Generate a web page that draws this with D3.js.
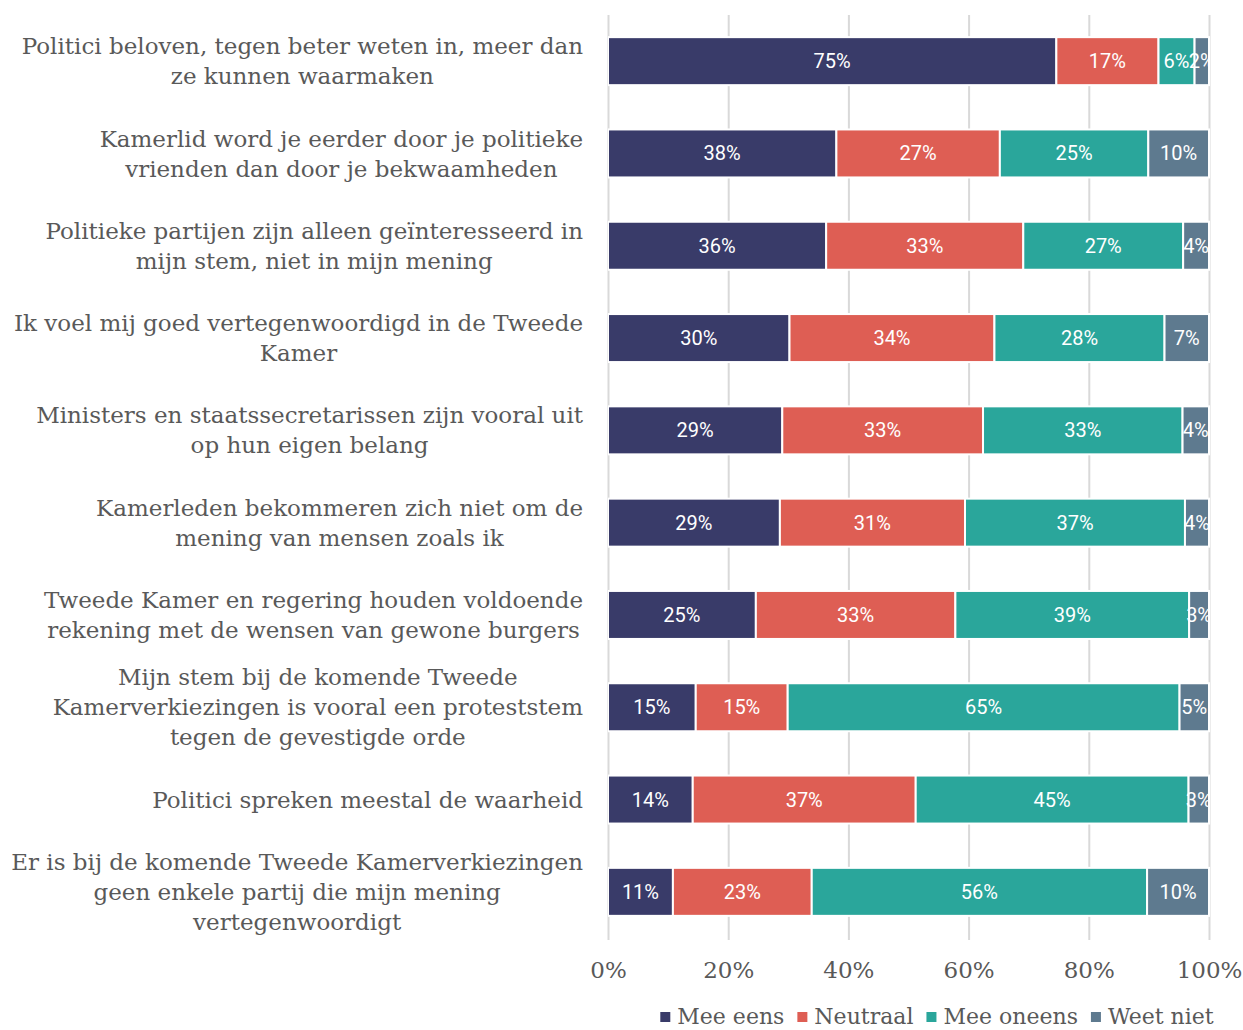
<!DOCTYPE html>
<html>
<head>
<meta charset="utf-8">
<script src="https://cdn.jsdelivr.net/npm/d3@7"></script>
<style>
  body { margin: 0; background: #fff; }
  svg { display: block; }
</style>
</head>
<body>
<script>
var width = 1243;
var height = 1030;

// statements, each split in the lines as shown
var categories = [
    ["Politici beloven, tegen beter weten in, meer dan", "ze kunnen waarmaken"],
    ["Kamerlid word je eerder door je politieke", "vrienden dan door je bekwaamheden"],
    ["Politieke partijen zijn alleen geïnteresseerd in", "mijn stem, niet in mijn mening"],
    ["Ik voel mij goed vertegenwoordigd in de Tweede", "Kamer"],
    ["Ministers en staatssecretarissen zijn vooral uit", "op hun eigen belang"],
    ["Kamerleden bekommeren zich niet om de", "mening van mensen zoals ik"],
    ["Tweede Kamer en regering houden voldoende", "rekening met de wensen van gewone burgers"],
    ["Mijn stem bij de komende Tweede", "Kamerverkiezingen is vooral een proteststem", "tegen de gevestigde orde"],
    ["Politici spreken meestal de waarheid"],
    ["Er is bij de komende Tweede Kamerverkiezingen", "geen enkele partij die mijn mening", "vertegenwoordigt"]
];

var series = ["Mee eens", "Neutraal", "Mee oneens", "Weet niet"];
var colors = ["#393b69", "#de5e54", "#2aa69b", "#5e7a8f"];

// percentages per series, same order as categories
var meeEens   = [74.6, 38.0, 36.3, 30.2, 29.0, 28.6, 24.6, 14.6, 14.1, 10.8];
var neutraal  = [17.0, 27.2, 32.8, 34.1, 33.4, 30.8, 33.2, 15.3, 37.1, 23.1];
var meeOneens = [ 6.0, 24.7, 26.6, 28.3, 33.2, 36.6, 38.9, 65.2, 45.4, 55.8];
var weetNiet  = [ 2.4, 10.1,  4.3,  7.4,  4.4,  4.0,  3.3,  4.9,  3.4, 10.3];

var xTicks = [0, 0.2, 0.4, 0.6, 0.8, 1];

var rows = categories.map(function(c, i) {
    return {
        id: i,
        lines: c,
        "Mee eens": meeEens[i],
        "Neutraal": neutraal[i],
        "Mee oneens": meeOneens[i],
        "Weet niet": weetNiet[i]
    };
});

var plotLeft = 608, plotRight = 1209, plotTop = 15, plotBottom = 938;
var serif = "'DejaVu Serif', serif";
var textGrey = "#595959";

var svg = d3.select("body")
    .append("svg")
    .attr("width", width)
    .attr("height", height);

var x = d3.scaleLinear().domain([0, 1]).range([plotLeft, plotRight]);
var y = d3.scaleBand()
    .domain(rows.map(function(d) { return d.id; }))
    .range([plotTop, plotBottom])
    .paddingInner(0.48)
    .paddingOuter(0.24);

var color = d3.scaleOrdinal().domain(series).range(colors);

// grid + tick labels
var xAxis = d3.axisBottom(x)
    .tickValues(xTicks)
    .tickFormat(d3.format(".0%"))
    .tickSize(-(plotBottom + 2 - plotTop))
    .tickPadding(22);

var gx = svg.append("g")
    .attr("transform", "translate(0," + (plotBottom + 2) + ")")
    .call(xAxis);
gx.select(".domain").remove();
gx.selectAll(".tick line")
    .attr("stroke", "#d9d9d9")
    .attr("stroke-width", 2);
gx.selectAll(".tick text")
    .attr("fill", textGrey)
    .style("font-family", serif)
    .style("font-size", "23px");

var stacked = d3.stack()
    .keys(series)
    .offset(d3.stackOffsetExpand)(rows);

svg.append("clipPath")
    .attr("id", "plotclip")
    .append("rect")
    .attr("x", plotLeft)
    .attr("y", 0)
    .attr("width", plotRight - plotLeft + 1)
    .attr("height", height);

var layers = svg.append("g")
    .attr("clip-path", "url(#plotclip)")
    .selectAll("g.layer")
    .data(stacked)
    .join("g")
    .attr("class", "layer")
    .attr("fill", function(d) { return color(d.key); });

layers.selectAll("rect")
    .data(function(d) { return d; })
    .join("rect")
    .attr("x", function(d) { return x(d[0]); })
    .attr("y", function(d) { return y(d.data.id); })
    .attr("width", function(d) { return x(d[1]) - x(d[0]); })
    .attr("height", y.bandwidth())
    .attr("stroke", "#fff")
    .attr("stroke-width", 2);

var labels = svg.append("g").attr("clip-path", "url(#plotclip)");
stacked.forEach(function(s) {
    labels.selectAll(null)
        .data(s)
        .join("text")
        .attr("x", function(d) { return (x(d[0]) + x(d[1])) / 2; })
        .attr("y", function(d) { return y(d.data.id) + y.bandwidth() / 2; })
        .attr("dy", ".35em")
        .attr("text-anchor", "middle")
        .attr("fill", "#fff")
        .style("font-family", "Roboto, sans-serif")
        .style("font-size", "20px")
        .text(function(d) { return Math.round(d.data[s.key]) + "%"; });
});

// category labels: block right aligned, lines centred inside it
var labelRight = 583;
var lineH = 30;
rows.forEach(function(r) {
    var g = svg.append("g");
    var cy = y(r.id) + y.bandwidth() / 2;
    var n = r.lines.length;
    var texts = r.lines.map(function(line, k) {
        return g.append("text")
            .attr("y", cy + (k - (n - 1) / 2) * lineH)
            .attr("dy", ".35em")
            .attr("text-anchor", "middle")
            .attr("fill", textGrey)
            .style("font-family", serif)
            .style("font-size", "23px")
            .text(line);
    });
    var maxW = d3.max(texts, function(t) { return t.node().getComputedTextLength(); });
    texts.forEach(function(t) { t.attr("x", labelRight - maxW / 2); });
});

// legend
var legend = svg.append("g");
var lx = 0;
series.forEach(function(s) {
    var item = legend.append("g").attr("transform", "translate(" + lx + ",0)");
    item.append("rect")
        .attr("x", 0)
        .attr("y", -4)
        .attr("width", 10)
        .attr("height", 10)
        .attr("fill", color(s));
    var t = item.append("text")
        .attr("x", 17)
        .attr("dy", ".35em")
        .attr("fill", textGrey)
        .style("font-family", serif)
        .style("font-size", "22px")
        .text(s);
    lx += 17 + t.node().getComputedTextLength() + 13;
});
lx -= 13;
legend.attr("transform", "translate(" + (937 - lx / 2) + ",1016)");
</script>
</body>
</html>
